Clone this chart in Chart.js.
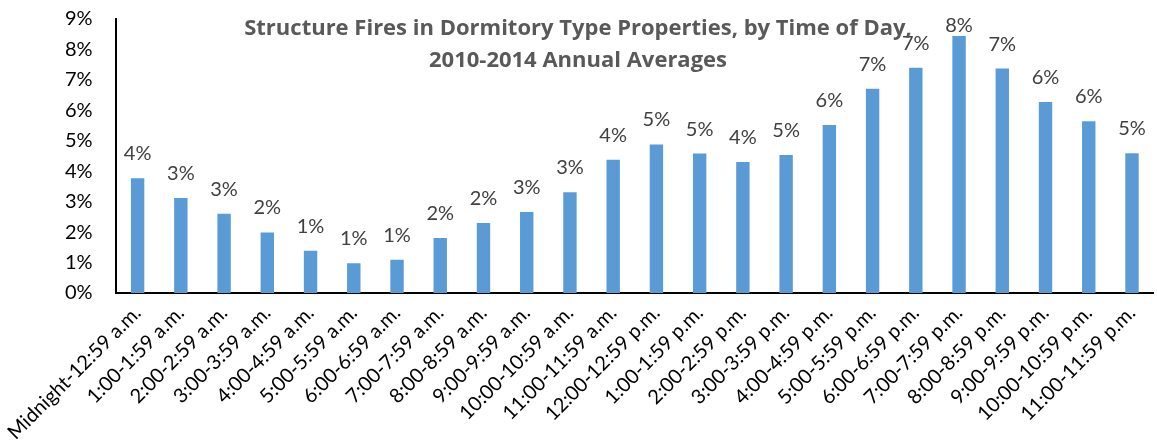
<!DOCTYPE html>
<html>
<head>
<meta charset="utf-8">
<script src="https://cdn.jsdelivr.net/npm/chart.js@4.4.1/dist/chart.umd.min.js"></script>
<style>
  html, body { margin: 0; padding: 0; background: #fff; }
  #wrap { position: relative; width: 1157px; height: 446px; }
</style>
</head>
<body>
<div id="wrap"><canvas id="chart" width="1157" height="446"></canvas></div>
<script>
// Structure fires in dormitory type properties, by time of day (2010-2014 annual averages)
const titleLines = ['Structure Fires in Dormitory Type Properties, by Time of Day,', '2010-2014 Annual Averages'];

const hours = [
  'Midnight-12:59 a.m.', '1:00-1:59 a.m.', '2:00-2:59 a.m.', '3:00-3:59 a.m.',
  '4:00-4:59 a.m.', '5:00-5:59 a.m.', '6:00-6:59 a.m.', '7:00-7:59 a.m.',
  '8:00-8:59 a.m.', '9:00-9:59 a.m.', '10:00-10:59 a.m.', '11:00-11:59 a.m.',
  '12:00-12:59 p.m.', '1:00-1:59 p.m.', '2:00-2:59 p.m.', '3:00-3:59 p.m.',
  '4:00-4:59 p.m.', '5:00-5:59 p.m.', '6:00-6:59 p.m.', '7:00-7:59 p.m.',
  '8:00-8:59 p.m.', '9:00-9:59 p.m.', '10:00-10:59 p.m.', '11:00-11:59 p.m.'
];

// share of fires, percent
const shares = [
  3.77, 3.12, 2.60, 1.99, 1.39, 0.98, 1.09, 1.81,
  2.30, 2.66, 3.31, 4.38, 4.88, 4.58, 4.30, 4.53,
  5.52, 6.71, 7.40, 8.44, 7.37, 6.27, 5.64, 4.59
];

const yTicks = [0, 1, 2, 3, 4, 5, 6, 7, 8, 9];

const FONT = 'Lato, "Open Sans", sans-serif';

const barLabels = {
  id: 'barLabels',
  afterDatasetsDraw(chart) {
    const ctx = chart.ctx;
    const meta = chart.getDatasetMeta(0);
    ctx.save();
    ctx.font = '20px ' + FONT;
    ctx.fillStyle = '#404040';
    ctx.textAlign = 'center';
    ctx.textBaseline = 'alphabetic';
    meta.data.forEach((bar, i) => {
      // keep the label inside the plot, the tallest bar pushes it down
      const y = Math.max(bar.y - 18, chart.chartArea.top + 13);
      ctx.fillText(Math.round(shares[i]) + '%', bar.x, y);
    });
    ctx.restore();
  }
};

// title sits on top of the plot, like the original, so it is not a layout box
const overlayTitle = {
  id: 'overlayTitle',
  afterDraw(chart) {
    const ctx = chart.ctx;
    ctx.save();
    ctx.font = 'bold 22px "Open Sans", Lato, sans-serif';
    ctx.fillStyle = '#595959';
    ctx.textAlign = 'center';
    ctx.textBaseline = 'alphabetic';
    ctx.fillText(titleLines[0], 578, 34.5);
    ctx.fillText(titleLines[1], 578, 66.5);
    ctx.restore();
  }
};

new Chart(document.getElementById('chart'), {
  type: 'bar',
  data: {
    labels: hours,
    datasets: [{
      data: shares,
      backgroundColor: '#5B9BD5',
      borderWidth: 0,
      barPercentage: 0.31,
      categoryPercentage: 1
    }]
  },
  options: {
    responsive: false,
    animation: false,
    layout: { padding: { top: 19, right: 2, left: 65, bottom: 0 } },
    plugins: {
      legend: { display: false },
      tooltip: { enabled: false },
      title: { display: false }
    },
    scales: {
      x: {
        grid: { display: false, drawTicks: false },
        border: { display: true, color: '#000', width: 2 },
        ticks: {
          autoSkip: false, minRotation: 45, maxRotation: 45, padding: 8,
          color: '#000', font: { family: FONT, size: 20 }
        },
        afterFit: s => { s.height = 446 - 293; }
      },
      y: {
        min: 0, max: 9,
        afterBuildTicks: s => { s.ticks = yTicks.map(v => ({ value: v })); },
        grid: { display: false, drawTicks: false },
        border: { display: true, color: '#000', width: 2 },
        ticks: {
          padding: 0, crossAlign: 'far', color: '#000', font: { family: FONT, size: 20 },
          callback: v => v + '%'
        },
        afterFit: s => { s.width = 116 - 65; }
      }
    }
  },
  plugins: [barLabels, overlayTitle]
});
</script>
</body>
</html>
